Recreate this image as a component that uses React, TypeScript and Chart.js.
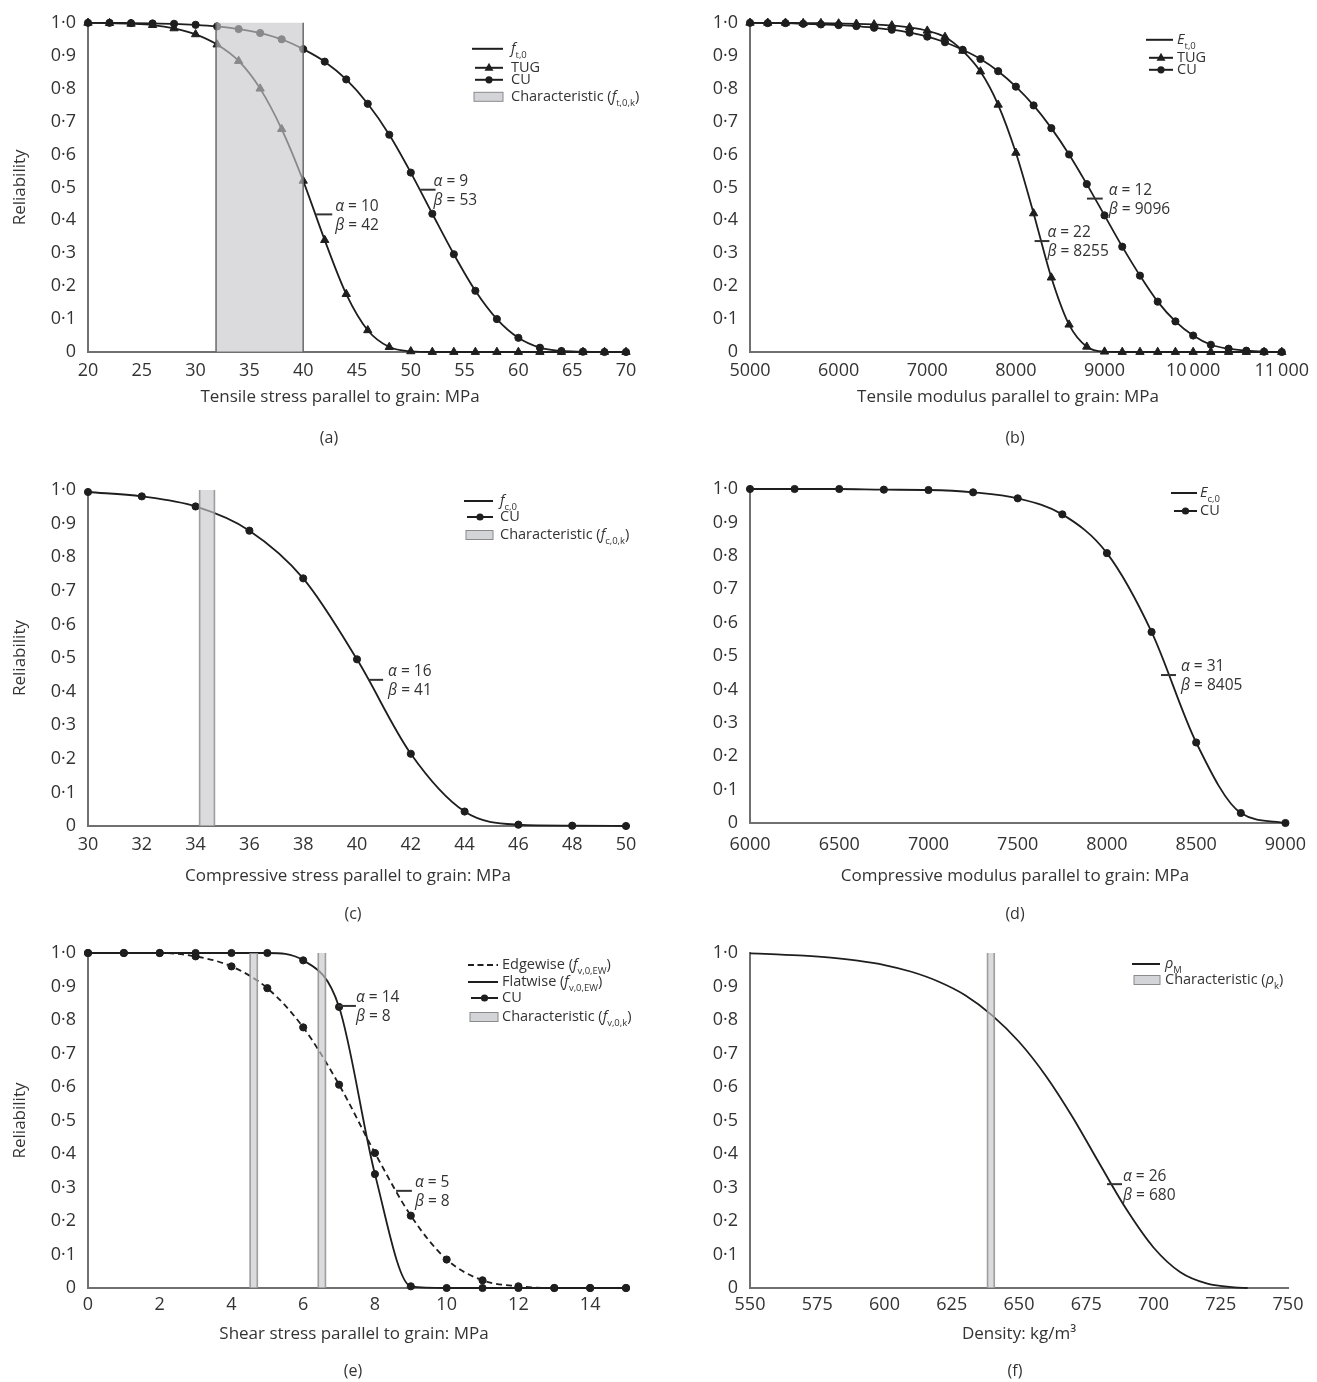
import React, { useEffect, useRef } from 'react';
import { Chart, registerables } from 'chart.js';
Chart.register(...registerables);

const FONT = "'Open Sans', 'Noto Sans', sans-serif";
const INK = '#1e1e1e';
const TXT = '#333333';
Chart.defaults.font.family = FONT;

// ---------- shared ----------
const yTicks = [0, 0.1, 0.2, 0.3, 0.4, 0.5, 0.6, 0.7, 0.8, 0.9, 1.0];

// ---------- (a) tensile stress ----------
const aTicks = [20, 25, 30, 35, 40, 45, 50, 55, 60, 65, 70];
const aX = [20, 22, 24, 26, 28, 30, 32, 34, 36, 38, 40, 42, 44, 46, 48, 50, 52, 54, 56, 58, 60, 62, 64, 66, 68, 70];
const aTUG = [1.0, 0.999, 0.997, 0.993, 0.983, 0.965, 0.934, 0.884, 0.8, 0.677, 0.52, 0.34, 0.176, 0.066, 0.015, 0.002, 0, 0, 0, 0, 0, 0, 0, 0, 0, 0];
const aCU = [1.0, 1.0, 0.999, 0.998, 0.997, 0.994, 0.989, 0.981, 0.969, 0.95, 0.92, 0.882, 0.828, 0.754, 0.66, 0.545, 0.42, 0.297, 0.186, 0.1, 0.043, 0.013, 0.003, 0.001, 0, 0];
const aBand = [31.9, 40.0];

// ---------- (b) tensile modulus ----------
const bTicks = [5000, 6000, 7000, 8000, 9000, 10000, 11000];
const bX = [5000, 5200, 5400, 5600, 5800, 6000, 6200, 6400, 6600, 6800, 7000, 7200, 7400, 7600, 7800, 8000, 8200, 8400, 8600, 8800, 9000, 9200, 9400, 9600, 9800, 10000, 10200, 10400, 10600, 10800, 11000];
const bTUG = [1.0, 1.0, 1.0, 0.999, 0.999, 0.998, 0.997, 0.995, 0.992, 0.986, 0.976, 0.957, 0.915, 0.852, 0.751, 0.605, 0.421, 0.226, 0.083, 0.016, 0.001, 0, 0, 0, 0, 0, 0, 0, 0, 0, 0];
const bCU = [1.0, 0.999, 0.999, 0.997, 0.995, 0.993, 0.99, 0.985, 0.979, 0.97, 0.958, 0.941, 0.918, 0.89, 0.853, 0.806, 0.749, 0.68, 0.6, 0.51, 0.415, 0.32, 0.232, 0.153, 0.093, 0.05, 0.022, 0.01, 0.004, 0.001, 0];

// ---------- (c) compressive stress ----------
const cTicks = [30, 32, 34, 36, 38, 40, 42, 44, 46, 48, 50];
const cX = [30, 32, 34, 36, 38, 40, 42, 44, 46, 48, 50];
const cCU = [0.994, 0.981, 0.951, 0.879, 0.737, 0.496, 0.215, 0.043, 0.004, 0.001, 0];
const cBand = [34.15, 34.7];

// ---------- (d) compressive modulus ----------
const dTicks = [6000, 6500, 7000, 7500, 8000, 8500, 9000];
const dX = [6000, 6250, 6500, 6750, 7000, 7250, 7500, 7750, 8000, 8250, 8500, 8750, 9000];
const dCU = [1.0, 1.0, 1.0, 0.998, 0.997, 0.99, 0.972, 0.924, 0.808, 0.572, 0.241, 0.03, 0];

// ---------- (e) shear stress ----------
const eTicks = [0, 2, 4, 6, 8, 10, 12, 14];
const eX = [0, 1, 2, 3, 4, 5, 6, 7, 8, 9, 10, 11, 12, 13, 14, 15];
const eEdge = [1.0, 1.0, 1.0, 0.99, 0.96, 0.895, 0.778, 0.607, 0.403, 0.216, 0.085, 0.023, 0.005, 0, 0, 0];
const eFlat = [1.0, 1.0, 1.0, 1.0, 1.0, 1.0, 0.978, 0.839, 0.34, 0.005, 0, 0, 0, 0, 0, 0];
const eBand1 = [4.52, 4.72];
const eBand2 = [6.42, 6.62];

// ---------- (f) density ----------
const fTicks = [550, 575, 600, 625, 650, 675, 700, 725, 750];
const fX = [550, 560, 570, 580, 590, 600, 610, 620, 630, 640, 650, 660, 670, 680, 690, 700, 710, 720, 730, 735];
const fRho = [0.999, 0.996, 0.992, 0.986, 0.977, 0.964, 0.944, 0.915, 0.874, 0.814, 0.735, 0.633, 0.509, 0.37, 0.234, 0.121, 0.047, 0.013, 0.002, 0];
const fBand = [638.3, 640.8];

type Part = { t: string; i?: boolean; sub?: boolean };
type LegendItem = { kind: 'line' | 'dash' | 'tri' | 'dot' | 'box'; dy: number; parts: Part[] };
type Ann = { x1: number; x2: number; y: number; a: string; b: string; dx: number };
type Series = { x: number[]; y: number[]; marker: 'tri' | 'dot' | 'none'; dashed?: boolean };

interface PanelDef {
  key: string;
  left: number; top: number; width: number; height: number;
  padTop: number; padBottom: number; padRight: number; yWidth: number;
  xHeight: number; tickPad: number;
  xMin: number; xMax: number; xTicks: number[];
  xTitle: string; titlePos: { x: number; dy: number }; yTitle: boolean;
  series: Series[];
  bands: { from: number; to: number; edge: string }[];
  legend: { x0: number; x1: number; tx: number; items: LegendItem[] };
  anns: Ann[];
  label: { text: string; x: number; dy: number };
}

const fmtY = (v: number) => (v === 0 ? '0' : Number(v).toFixed(1).replace('.', '\u00B7'));
const fmtX = (v: number) =>
  v >= 10000 ? `${Math.floor(v / 1000)}\u2009${String(v % 1000).padStart(3, '0')}` : String(v);

const panels: PanelDef[] = [
  {
    key: 'a', left: 0, top: 0, width: 658, height: 460,
    padTop: 17, padBottom: 53, padRight: 32, yWidth: 88, xHeight: 55, tickPad: 8,
    xMin: 20, xMax: 70, xTicks: aTicks, xTitle: 'Tensile stress parallel to grain: MPa',
    titlePos: { x: 340, dy: 45 }, yTitle: true,
    series: [{ x: aX, y: aTUG, marker: 'tri' }, { x: aX, y: aCU, marker: 'dot' }],
    bands: [{ from: aBand[0], to: aBand[1], edge: 'rgba(100,100,100,0.9)' }],
    legend: {
      x0: 384, x1: 415, tx: 423, items: [
        { kind: 'line', dy: 26, parts: [{ t: 'f', i: true }, { t: 't,0', sub: true }] },
        { kind: 'tri', dy: 45, parts: [{ t: 'TUG' }] },
        { kind: 'dot', dy: 57, parts: [{ t: 'CU' }] },
        { kind: 'box', dy: 74, parts: [{ t: 'Characteristic (' }, { t: 'f', i: true }, { t: 't,0,k', sub: true }, { t: ')' }] },
      ],
    },
    anns: [
      { x1: 41.2, x2: 42.7, y: 0.418, a: '10', b: '42', dx: 3 },
      { x1: 50.9, x2: 52.3, y: 0.493, a: '9', b: '53', dx: -2 },
    ],
    label: { text: '(a)', x: 329, dy: 86 },
  },
  {
    key: 'b', left: 658, top: 0, width: 659, height: 460,
    padTop: 17, padBottom: 53, padRight: 29, yWidth: 92, xHeight: 55, tickPad: 8,
    xMin: 5000, xMax: 11000, xTicks: bTicks, xTitle: 'Tensile modulus parallel to grain: MPa',
    titlePos: { x: 350, dy: 45 }, yTitle: false,
    series: [{ x: bX, y: bTUG, marker: 'tri' }, { x: bX, y: bCU, marker: 'dot' }],
    bands: [],
    legend: {
      x0: 396, x1: 423, tx: 427, items: [
        { kind: 'line', dy: 17, parts: [{ t: 'E', i: true }, { t: 't,0', sub: true }] },
        { kind: 'tri', dy: 35, parts: [{ t: 'TUG' }] },
        { kind: 'dot', dy: 47, parts: [{ t: 'CU' }] },
      ],
    },
    anns: [
      { x1: 8211, x2: 8378, y: 0.337, a: '22', b: '8255', dx: -2 },
      { x1: 8802, x2: 8980, y: 0.466, a: '12', b: '9096', dx: 6 },
    ],
    label: { text: '(b)', x: 357, dy: 86 },
  },
  {
    key: 'c', left: 0, top: 460, width: 658, height: 470,
    padTop: 30, padBottom: 44, padRight: 32, yWidth: 88, xHeight: 60, tickPad: 8,
    xMin: 30, xMax: 50, xTicks: cTicks, xTitle: 'Compressive stress parallel to grain: MPa',
    titlePos: { x: 348, dy: 50 }, yTitle: true,
    series: [{ x: cX, y: cCU, marker: 'dot' }],
    bands: [{ from: cBand[0], to: cBand[1], edge: 'rgba(150,150,150,0.9)' }],
    legend: {
      x0: 376, x1: 405, tx: 412, items: [
        { kind: 'line', dy: 11, parts: [{ t: 'f', i: true }, { t: 'c,0', sub: true }] },
        { kind: 'dot', dy: 27, parts: [{ t: 'CU' }] },
        { kind: 'box', dy: 45, parts: [{ t: 'Characteristic (' }, { t: 'f', i: true }, { t: 'c,0,k', sub: true }, { t: ')' }] },
      ],
    },
    anns: [{ x1: 40.41, x2: 40.97, y: 0.435, a: '16', b: '41', dx: 5 }],
    label: { text: '(c)', x: 353, dy: 88 },
  },
  {
    key: 'd', left: 658, top: 460, width: 659, height: 470,
    padTop: 29, padBottom: 44, padRight: 29, yWidth: 92, xHeight: 63, tickPad: 11,
    xMin: 6000, xMax: 9000, xTicks: dTicks, xTitle: 'Compressive modulus parallel to grain: MPa',
    titlePos: { x: 357, dy: 53 }, yTitle: false,
    series: [{ x: dX, y: dCU, marker: 'dot' }],
    bands: [],
    legend: {
      x0: 421, x1: 447, tx: 450, items: [
        { kind: 'line', dy: 4, parts: [{ t: 'E', i: true }, { t: 'c,0', sub: true }] },
        { kind: 'dot', dy: 22, parts: [{ t: 'CU' }] },
      ],
    },
    anns: [{ x1: 8303, x2: 8387, y: 0.443, a: '31', b: '8405', dx: 5 }],
    label: { text: '(d)', x: 357, dy: 91 },
  },
  {
    key: 'e', left: 0, top: 930, width: 658, height: 452,
    padTop: 23, padBottom: 38, padRight: 32, yWidth: 88, xHeight: 56, tickPad: 6,
    xMin: 0, xMax: 15, xTicks: eTicks, xTitle: 'Shear stress parallel to grain: MPa',
    titlePos: { x: 354, dy: 46 }, yTitle: true,
    series: [{ x: eX, y: eEdge, marker: 'dot', dashed: true }, { x: eX, y: eFlat, marker: 'dot' }],
    bands: [
      { from: eBand1[0], to: eBand1[1], edge: 'rgba(150,150,150,0.9)' },
      { from: eBand2[0], to: eBand2[1], edge: 'rgba(150,150,150,0.9)' },
    ],
    legend: {
      x0: 380, x1: 410, tx: 414, items: [
        { kind: 'dash', dy: 12, parts: [{ t: 'Edgewise (' }, { t: 'f', i: true }, { t: 'v,0,EW', sub: true }, { t: ')' }] },
        { kind: 'line', dy: 29, parts: [{ t: 'Flatwise (' }, { t: 'f', i: true }, { t: 'v,0,EW', sub: true }, { t: ')' }] },
        { kind: 'dot', dy: 45, parts: [{ t: 'CU' }] },
        { kind: 'box', dy: 64, parts: [{ t: 'Characteristic (' }, { t: 'f', i: true }, { t: 'v,0,k', sub: true }, { t: ')' }] },
      ],
    },
    anns: [
      { x1: 6.97, x2: 7.47, y: 0.842, a: '14', b: '8', dx: 0 },
      { x1: 8.59, x2: 9.03, y: 0.29, a: '5', b: '8', dx: 3 },
    ],
    label: { text: '(e)', x: 353, dy: 83 },
  },
  {
    key: 'f', left: 658, top: 930, width: 659, height: 452,
    padTop: 23, padBottom: 38, padRight: 29, yWidth: 92, xHeight: 56, tickPad: 6,
    xMin: 550, xMax: 750, xTicks: fTicks, xTitle: 'Density: kg/m\u00B3',
    titlePos: { x: 361, dy: 46 }, yTitle: false,
    series: [{ x: fX, y: fRho, marker: 'none' }],
    bands: [{ from: fBand[0], to: fBand[1], edge: 'rgba(150,150,150,0.9)' }],
    legend: {
      x0: 382, x1: 410, tx: 415, items: [
        { kind: 'line', dy: 11, parts: [{ t: '\u03C1', i: true }, { t: 'M', sub: true }] },
        { kind: 'box', dy: 27, parts: [{ t: 'Characteristic (' }, { t: '\u03C1', i: true }, { t: 'k', sub: true }, { t: ')' }] },
      ],
    },
    anns: [{ x1: 682.7, x2: 688.3, y: 0.31, a: '26', b: '680', dx: 1 }],
    label: { text: '(f)', x: 357, dy: 83 },
  },
];

function drawMarker(ctx: CanvasRenderingContext2D, kind: string, x: number, y: number) {
  ctx.fillStyle = INK;
  ctx.beginPath();
  if (kind === 'tri') {
    ctx.moveTo(x, y - 5);
    ctx.lineTo(x + 4.5, y + 3);
    ctx.lineTo(x - 4.5, y + 3);
    ctx.closePath();
  } else {
    ctx.arc(x, y, 3.6, 0, Math.PI * 2);
  }
  ctx.fill();
}

function drawParts(ctx: CanvasRenderingContext2D, parts: Part[], x: number, y: number) {
  let cx = x;
  ctx.textAlign = 'left';
  ctx.textBaseline = 'middle';
  ctx.fillStyle = TXT;
  for (const p of parts) {
    if (p.sub) {
      ctx.font = `9.5px ${FONT}`;
      ctx.fillText(p.t, cx, y + 6);
    } else {
      ctx.font = `${p.i ? 'italic ' : ''}14.5px ${FONT}`;
      ctx.fillText(p.t, cx, y);
    }
    cx += ctx.measureText(p.t).width;
  }
}

function makeDecor(def: PanelDef) {
  return {
    id: 'decor',
    afterDatasetsDraw(chart: any) {
      const ctx: CanvasRenderingContext2D = chart.ctx;
      const xs = chart.scales.x;
      const ys = chart.scales.y;
      const ca = chart.chartArea;
      ctx.save();
      // characteristic bands
      for (const b of def.bands) {
        const x1 = xs.getPixelForValue(b.from);
        const x2 = xs.getPixelForValue(b.to);
        ctx.fillStyle = 'rgba(198,199,204,0.64)';
        ctx.fillRect(x1, ca.top, x2 - x1, ca.bottom - ca.top);
        ctx.strokeStyle = b.edge;
        ctx.lineWidth = 1.6;
        ctx.beginPath();
        ctx.moveTo(x1, ca.top);
        ctx.lineTo(x1, ca.bottom);
        ctx.moveTo(x2, ca.top);
        ctx.lineTo(x2, ca.bottom);
        ctx.stroke();
      }
      // parameter annotations
      for (const a of def.anns) {
        const px1 = xs.getPixelForValue(a.x1);
        const px2 = xs.getPixelForValue(a.x2);
        const py = ys.getPixelForValue(a.y);
        ctx.strokeStyle = '#333';
        ctx.lineWidth = 2;
        ctx.beginPath();
        ctx.moveTo(px1, py);
        ctx.lineTo(px2, py);
        ctx.stroke();
        const tx = px2 + a.dx;
        const lines: [string, string, number][] = [
          ['\u03B1', ` = ${a.a}`, py - 8],
          ['\u03B2', ` = ${a.b}`, py + 11],
        ];
        ctx.textAlign = 'left';
        ctx.textBaseline = 'middle';
        ctx.fillStyle = TXT;
        for (const [g, rest, ly] of lines) {
          ctx.font = `italic 15.5px ${FONT}`;
          ctx.fillText(g, tx, ly);
          const w = ctx.measureText(g).width;
          ctx.font = `15.5px ${FONT}`;
          ctx.fillText(rest, tx + w, ly);
        }
      }
      // legend
      const L = def.legend;
      for (const it of L.items) {
        const y = ca.top + it.dy;
        const sx1 = ca.left + L.x0;
        const sx2 = ca.left + L.x1;
        if (it.kind === 'box') {
          ctx.fillStyle = '#d3d4d7';
          ctx.fillRect(sx1 + 2, y - 4.5, sx2 - sx1 - 2, 9);
          ctx.strokeStyle = '#8a8a8a';
          ctx.lineWidth = 1;
          ctx.strokeRect(sx1 + 2, y - 4.5, sx2 - sx1 - 2, 9);
        } else {
          ctx.strokeStyle = INK;
          ctx.lineWidth = 2;
          ctx.setLineDash(it.kind === 'dash' ? [6, 3.5] : []);
          ctx.beginPath();
          ctx.moveTo(sx1 + (it.kind === 'tri' || it.kind === 'dot' ? 3 : 0), y);
          ctx.lineTo(sx2, y);
          ctx.stroke();
          ctx.setLineDash([]);
          if (it.kind === 'tri' || it.kind === 'dot') drawMarker(ctx, it.kind, (sx1 + 3 + sx2) / 2, y);
        }
        drawParts(ctx, it.parts, ca.left + L.tx, y);
      }
      // x-axis title
      ctx.font = `17px ${FONT}`;
      ctx.fillStyle = TXT;
      ctx.textAlign = 'center';
      ctx.textBaseline = 'middle';
      ctx.fillText(def.xTitle, def.titlePos.x, ca.bottom + def.titlePos.dy);
      // panel label
      ctx.font = `16px ${FONT}`;
      ctx.fillText(def.label.text, def.label.x, ca.bottom + def.label.dy);
      ctx.restore();
    },
  };
}

function buildConfig(def: PanelDef): any {
  const datasets = def.series.map((s) => ({
    data: s.x.map((x, i) => ({ x, y: s.y[i] })),
    showLine: true,
    borderColor: INK,
    backgroundColor: INK,
    borderWidth: 1.8,
    borderDash: s.dashed ? [6, 4] : [],
    pointRadius: s.marker === 'none' ? 0 : s.marker === 'tri' ? 4.8 : 3.6,
    pointStyle: s.marker === 'tri' ? 'triangle' : 'circle',
    pointBackgroundColor: INK,
    pointBorderColor: INK,
    pointBorderWidth: 1,
    cubicInterpolationMode: 'monotone',
    clip: false,
  }));
  return {
    type: 'scatter',
    data: { datasets },
    options: {
      animation: false,
      responsive: false,
      maintainAspectRatio: false,
      events: [],
      layout: { padding: { top: def.padTop, bottom: def.padBottom, left: 0, right: def.padRight } },
      plugins: { legend: { display: false }, tooltip: { enabled: false } },
      scales: {
        x: {
          type: 'linear',
          min: def.xMin,
          max: def.xMax,
          afterBuildTicks: (s: any) => {
            s.ticks = def.xTicks.map((v) => ({ value: v }));
          },
          afterFit: (s: any) => {
            s.height = def.xHeight;
          },
          grid: { display: false, drawTicks: false },
          border: { display: true, color: '#707070', width: 2 },
          ticks: {
            padding: def.tickPad,
            autoSkip: false,
            maxRotation: 0,
            color: TXT,
            font: { family: FONT, size: 18 },
            callback: (v: any) => fmtX(Number(v)),
          },
          title: { display: false },
        },
        y: {
          type: 'linear',
          min: 0,
          max: 1,
          afterBuildTicks: (s: any) => {
            s.ticks = yTicks.map((v) => ({ value: v }));
          },
          afterFit: (s: any) => {
            s.width = def.yWidth;
          },
          grid: { display: false, drawTicks: false },
          border: { display: true, color: '#707070', width: 2 },
          ticks: {
            padding: 12,
            autoSkip: false,
            color: TXT,
            font: { family: FONT, size: 18 },
            callback: (v: any) => fmtY(Number(v)),
          },
          title: {
            display: def.yTitle,
            text: 'Reliability',
            color: TXT,
            font: { family: FONT, size: 17 },
            padding: { top: 10, bottom: 0 },
          },
        },
      },
    },
    plugins: [makeDecor(def)],
  };
}

function Panel({ def }: { def: PanelDef }) {
  const ref = useRef<HTMLCanvasElement>(null);
  useEffect(() => {
    const chart = new Chart(ref.current as HTMLCanvasElement, buildConfig(def));
    return () => chart.destroy();
  }, [def]);
  return (
    <canvas
      ref={ref}
      width={def.width}
      height={def.height}
      style={{ position: 'absolute', left: def.left, top: def.top, width: def.width, height: def.height }}
    />
  );
}

export default function App() {
  return (
    <div style={{ position: 'absolute', left: 0, top: 0, width: 1317, height: 1382, background: '#fff' }}>
      {panels.map((p) => (
        <Panel key={p.key} def={p} />
      ))}
    </div>
  );
}
